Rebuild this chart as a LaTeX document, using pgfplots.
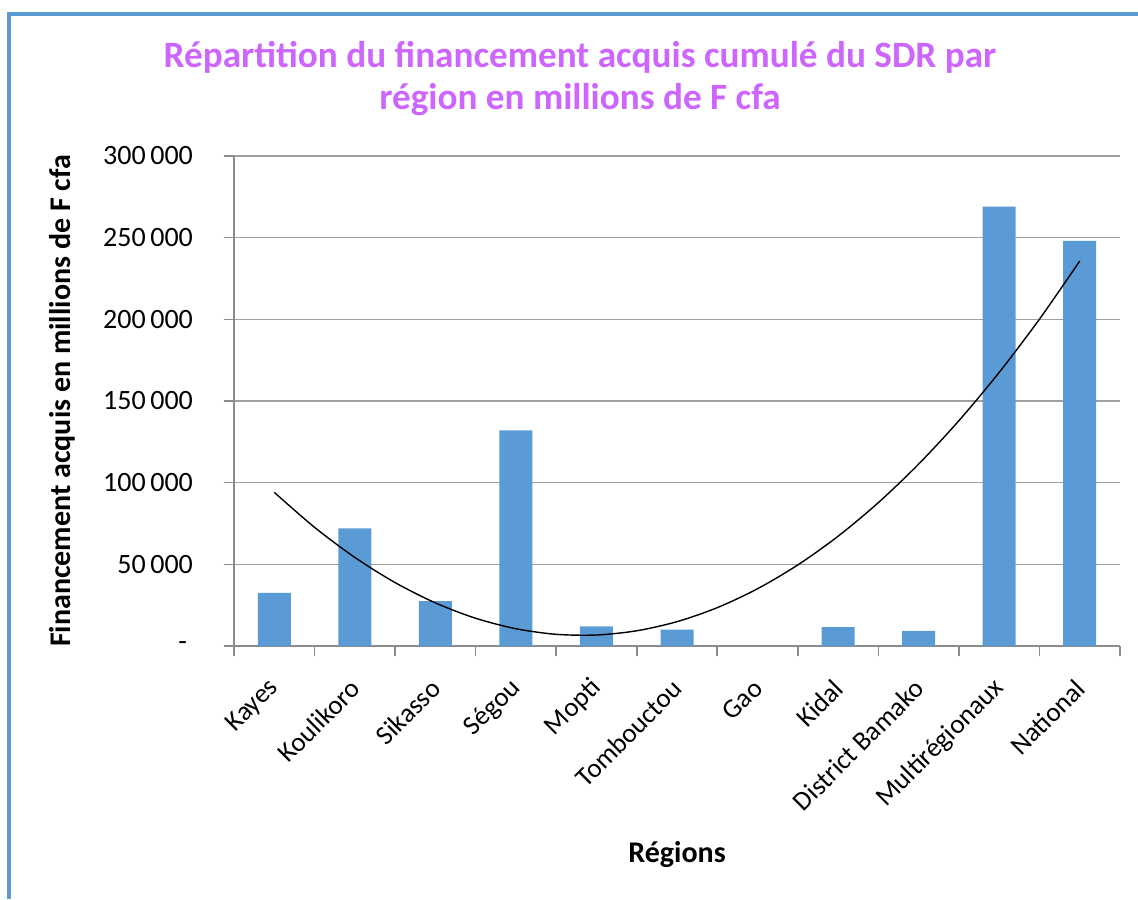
\documentclass[border=0pt]{standalone}
\usepackage{pgfplots}
\pgfplotsset{compat=1.18}
\usepackage{fontspec}
\setmainfont{Carlito}
\definecolor{barblue}{HTML}{5B9BD5}
\definecolor{framblue}{HTML}{5B9BD5}
\definecolor{titlevio}{HTML}{CC66FF}
\definecolor{gridgray}{HTML}{A0A0A0}
\definecolor{axgray}{HTML}{8C8C8C}
\begin{document}
\begin{tikzpicture}
\useasboundingbox (0pt,0pt) rectangle (569pt,449.5pt);
\draw[framblue,line width=2.2pt] (4.5pt,0pt) -- (4.5pt,442.5pt) -- (569pt,442.5pt);
\begin{axis}[
  at={(117pt,126.5pt)}, anchor=south west,
  scale only axis, width=443pt, height=245pt,
  xmin=-0.5, xmax=10.5, ymin=0, ymax=300000,
  scaled y ticks=false,
  axis x line*=bottom, axis y line*=left,
  axis line style={axgray, line width=0.8pt, -},
  xtick={-0.5,0.5,...,10.5},
  xticklabels={},
  x tick style={axgray, line width=0.8pt},
  xtick align=outside,
  extra x ticks={0,...,10},
  extra x tick labels={Kayes,Koulikoro,Sikasso,Ségou,Mopti,Tombouctou,Gao,Kidal,District Bamako,Multirégionaux,National},
  extra x tick style={major tick length=0pt, tick style={draw=none}, grid=none,
     xticklabel style={xshift=2.7pt, yshift=-16.6pt, rotate=45, anchor=east, font=\fontsize{13.5}{15}\selectfont}},
  ytick={0,50000,...,300000},
  yticklabels={{-\hspace*{3pt}},{50\,000},{100\,000},{150\,000},{200\,000},{250\,000},{300\,000}},
  yticklabel style={font=\fontsize{14}{15}\selectfont, xshift=-12pt},
  y tick style={axgray, line width=0.8pt},
  tick align=outside, major tick length=5pt,
  ymajorgrids, grid style={gridgray, line width=0.8pt},
  ylabel={\textbf{Financement acquis en millions de F cfa}},
  ylabel style={font=\fontsize{15}{17}\selectfont, at={(axis description cs:-0.194,0.5)}, anchor=center, rotate=0},
  xlabel={\textbf{Régions}},
  xlabel style={font=\fontsize{15}{17}\selectfont, at={(axis description cs:0.5,-0.4265)}, anchor=center},
  clip=false,
]
\addplot[ybar, bar width=16.5pt, fill=barblue, draw=none] coordinates {
(0,32500) (1,72000) (2,27500) (3,132000) (4,12000) (5,10000) (6,0) (7,11600) (8,9200) (9,269000) (10,248000)
};
\addplot[black, line width=0.7pt, smooth, no marks] coordinates {
(0,94065) (0.5,72651) (1,54236) (1.5,38821) (2,26405) (2.5,16989) (3,10572) (3.5,7155) (4,6737) (4.5,9319) (5,14900) (5.5,23481) (6,35061) (6.5,49641) (7,67220) (7.5,87799) (8,111377) (8.5,137955) (9,167532) (9.5,200109) (10,235685)
};
\end{axis}
\node[titlevio, font=\fontsize{18.6}{22}\selectfont\bfseries] at (290pt,421pt) {Répartition du financement acquis cumulé du SDR par};
\node[titlevio, font=\fontsize{18.6}{22}\selectfont\bfseries] at (290pt,399.5pt) {région en millions de F cfa};
\end{tikzpicture}
\end{document}
